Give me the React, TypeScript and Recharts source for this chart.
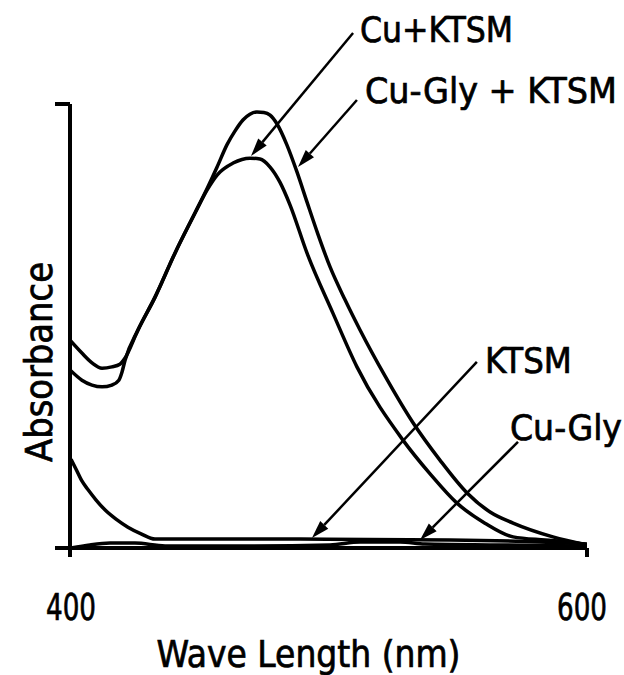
import React from 'react';
import { LineChart, Line, XAxis, YAxis, ReferenceLine, Label } from 'recharts';

// ---- data (wavelength nm / absorbance, arbitrary units 0..1) ----
const cuGlyKtsmNm = [400, 404.6, 408.5, 412.4, 416.2, 419.3, 421.3, 426.3, 432.9, 440.6, 448.4, 453.0, 456.9, 460.7, 463.8, 466.9, 469.6, 472.3, 475.0, 477.4, 480.1, 483.9, 487.8, 491.7, 495.9, 500.6, 506.4, 512.2, 521.9, 532.7, 543.1, 553.6, 562.5, 571.4, 586.8, 600];
const cuGlyKtsmAbs = [0.468, 0.439, 0.417, 0.405, 0.408, 0.414, 0.428, 0.491, 0.565, 0.664, 0.755, 0.809, 0.858, 0.908, 0.939, 0.964, 0.977, 0.982, 0.981, 0.975, 0.955, 0.908, 0.847, 0.779, 0.707, 0.633, 0.559, 0.491, 0.387, 0.282, 0.198, 0.124, 0.081, 0.056, 0.025, 0.007];

const cuKtsmNm = [400, 404.6, 408.5, 412.4, 416.2, 418.9, 420.1, 421.3, 426.3, 432.9, 440.6, 448.4, 453.0, 456.9, 463.1, 469.6, 473.5, 477.4, 481.2, 485.1, 491.7, 501.7, 511.0, 528.8, 539.3, 549.7, 560.5, 571.4, 583.8, 593.4, 600];
const cuKtsmAbs = [0.401, 0.378, 0.367, 0.363, 0.367, 0.378, 0.396, 0.423, 0.491, 0.565, 0.664, 0.755, 0.806, 0.840, 0.867, 0.878, 0.876, 0.858, 0.824, 0.773, 0.664, 0.529, 0.408, 0.243, 0.167, 0.101, 0.056, 0.025, 0.018, 0.0135, 0.007];

const ktsmNm = [400.4, 402.3, 404.6, 407.0, 410.1, 413.5, 417.8, 422.4, 427.5, 432.9, 489.0, 547.0, 581.8, 600];
const ktsmAbs = [0.2, 0.178, 0.151, 0.131, 0.108, 0.086, 0.065, 0.047, 0.032, 0.020, 0.020, 0.018, 0.0135, 0.009];

const cuGlyNm = [400.4, 407.7, 415.5, 425.1, 436.8, 469.6, 500.6, 512.2, 527.7, 537.3, 566.3, 600];
const cuGlyAbs = [0, 0.007, 0.011, 0.011, 0.0045, 0.0045, 0.007, 0.0135, 0.0135, 0.009, 0.007, 0.0045];

const xTicks = [400, 600];
const yTicks = [0, 1];

// annotation arrows: label text, arrow start (near label) and tip (on curve)
const annotations = [
  { text: 'Cu+KTSM', from: { x: 509.5, y: 1.16 }, to: { x: 470.0, y: 0.883 } },
  { text: 'Cu-Gly + KTSM', from: { x: 511.0, y: 1.009 }, to: { x: 488.2, y: 0.858 } },
  { text: 'KTSM', from: { x: 557.4, y: 0.419 }, to: { x: 493.6, y: 0.0225 } },
  { text: 'Cu-Gly', from: { x: 573.3, y: 0.239 }, to: { x: 535.4, y: 0.018 } },
];

// label placement (style) relative to arrow start, in px
const labelStyle: Record<string, { dx: number; dy: number; w: number }> = {
  'Cu+KTSM': { dx: 7, dy: 9, w: 153 },
  'Cu-Gly + KTSM': { dx: 8, dy: 3, w: 252 },
  KTSM: { dx: 8, dy: 11, w: 87 },
  'Cu-Gly': { dx: -8, dy: -2, w: 112 },
};

const zip = (xs: number[], ys: number[]) => xs.map((x, i) => ({ x, y: ys[i] }));

const FONT = "'DejaVu Sans Condensed', 'DejaVu Sans', sans-serif";
const TEXT_STROKE = { stroke: '#000', strokeWidth: 0.7 };

const makeArrow = (text: string) => (props: any) => {
  const { x1, y1, x2, y2 } = props;
  const st = labelStyle[text];
  const ang = Math.atan2(y2 - y1, x2 - x1);
  const L = 18;
  const H = 5.5;
  const bx = x2 - L * Math.cos(ang);
  const by = y2 - L * Math.sin(ang);
  const px = -Math.sin(ang) * H;
  const py = Math.cos(ang) * H;
  return (
    <g>
      <line x1={x1} y1={y1} x2={bx} y2={by} stroke="#000" strokeWidth={2.5} />
      <polygon points={`${x2},${y2} ${bx + px},${by + py} ${bx - px},${by - py}`} fill="#000" />
      <text
        x={x1 + st.dx}
        y={y1 + st.dy}
        fontFamily={FONT}
        fontSize={36}
        fill="#000"
        {...TEXT_STROKE}
        textLength={st.w}
        lengthAdjust="spacingAndGlyphs"
      >
        {text}
      </text>
    </g>
  );
};

const XTick = (props: any) => {
  const { x, y, payload } = props;
  const shift = payload.value === 600 ? -5 : 1;
  return (
    <text x={x + shift} y={y} dy={61} textAnchor="middle" fontFamily={FONT} fontSize={38} fill="#000" {...TEXT_STROKE} textLength={50} lengthAdjust="spacingAndGlyphs">
      {payload.value}
    </text>
  );
};

const NoTick = () => <g />;

const XLabel = (props: any) => {
  const vb = props.viewBox;
  return (
    <text x={vb.x + vb.width / 2 - 20} y={vb.y + 119} textAnchor="middle" fontFamily={FONT} fontSize={38} fill="#000" {...TEXT_STROKE} textLength={304} lengthAdjust="spacingAndGlyphs">
      Wave Length (nm)
    </text>
  );
};

const YLabel = (props: any) => {
  const vb = props.viewBox;
  const cx = vb.x + vb.width - 18;
  const cy = vb.y + vb.height / 2 + 36;
  return (
    <text x={cx} y={cy} transform={`rotate(-90 ${cx} ${cy})`} textAnchor="middle" fontFamily={FONT} fontSize={37} fill="#000" {...TEXT_STROKE} textLength={200} lengthAdjust="spacingAndGlyphs">
      Absorbance
    </text>
  );
};

export default function App() {
  return (
    <div style={{ position: 'absolute', left: 0, top: 0, width: 624, height: 675, background: '#fff' }}>
      <LineChart width={624} height={675} margin={{ top: 104, right: 37, bottom: 126, left: 69 }}>
        <XAxis
          dataKey="x"
          type="number"
          domain={[400, 600]}
          ticks={xTicks}
          allowDataOverflow
          height={1}
          tickSize={9}
          tickMargin={2}
          tick={<XTick />}
          axisLine={{ stroke: '#000', strokeWidth: 4 }}
          tickLine={{ stroke: '#000', strokeWidth: 4 }}
        >
          <Label content={<XLabel />} />
        </XAxis>
        <YAxis
          type="number"
          domain={[0, 1]}
          ticks={yTicks}
          allowDataOverflow
          width={1}
          tickSize={15}
          tick={<NoTick />}
          axisLine={{ stroke: '#000', strokeWidth: 4 }}
          tickLine={{ stroke: '#000', strokeWidth: 4 }}
        >
          <Label content={<YLabel />} />
        </YAxis>
        <Line data={zip(cuGlyNm, cuGlyAbs)} dataKey="y" type="monotone" stroke="#000" strokeWidth={3.5} dot={false} isAnimationActive={false} />
        <Line data={zip(ktsmNm, ktsmAbs)} dataKey="y" type="monotone" stroke="#000" strokeWidth={3.5} dot={false} isAnimationActive={false} />
        <Line data={zip(cuKtsmNm, cuKtsmAbs)} dataKey="y" type="monotone" stroke="#000" strokeWidth={3.5} dot={false} isAnimationActive={false} />
        <Line data={zip(cuGlyKtsmNm, cuGlyKtsmAbs)} dataKey="y" type="monotone" stroke="#000" strokeWidth={3.5} dot={false} isAnimationActive={false} />
        {annotations.map((a) => (
          <ReferenceLine key={a.text} segment={[a.from, a.to]} ifOverflow="visible" shape={makeArrow(a.text)} />
        ))}
      </LineChart>
    </div>
  );
}
